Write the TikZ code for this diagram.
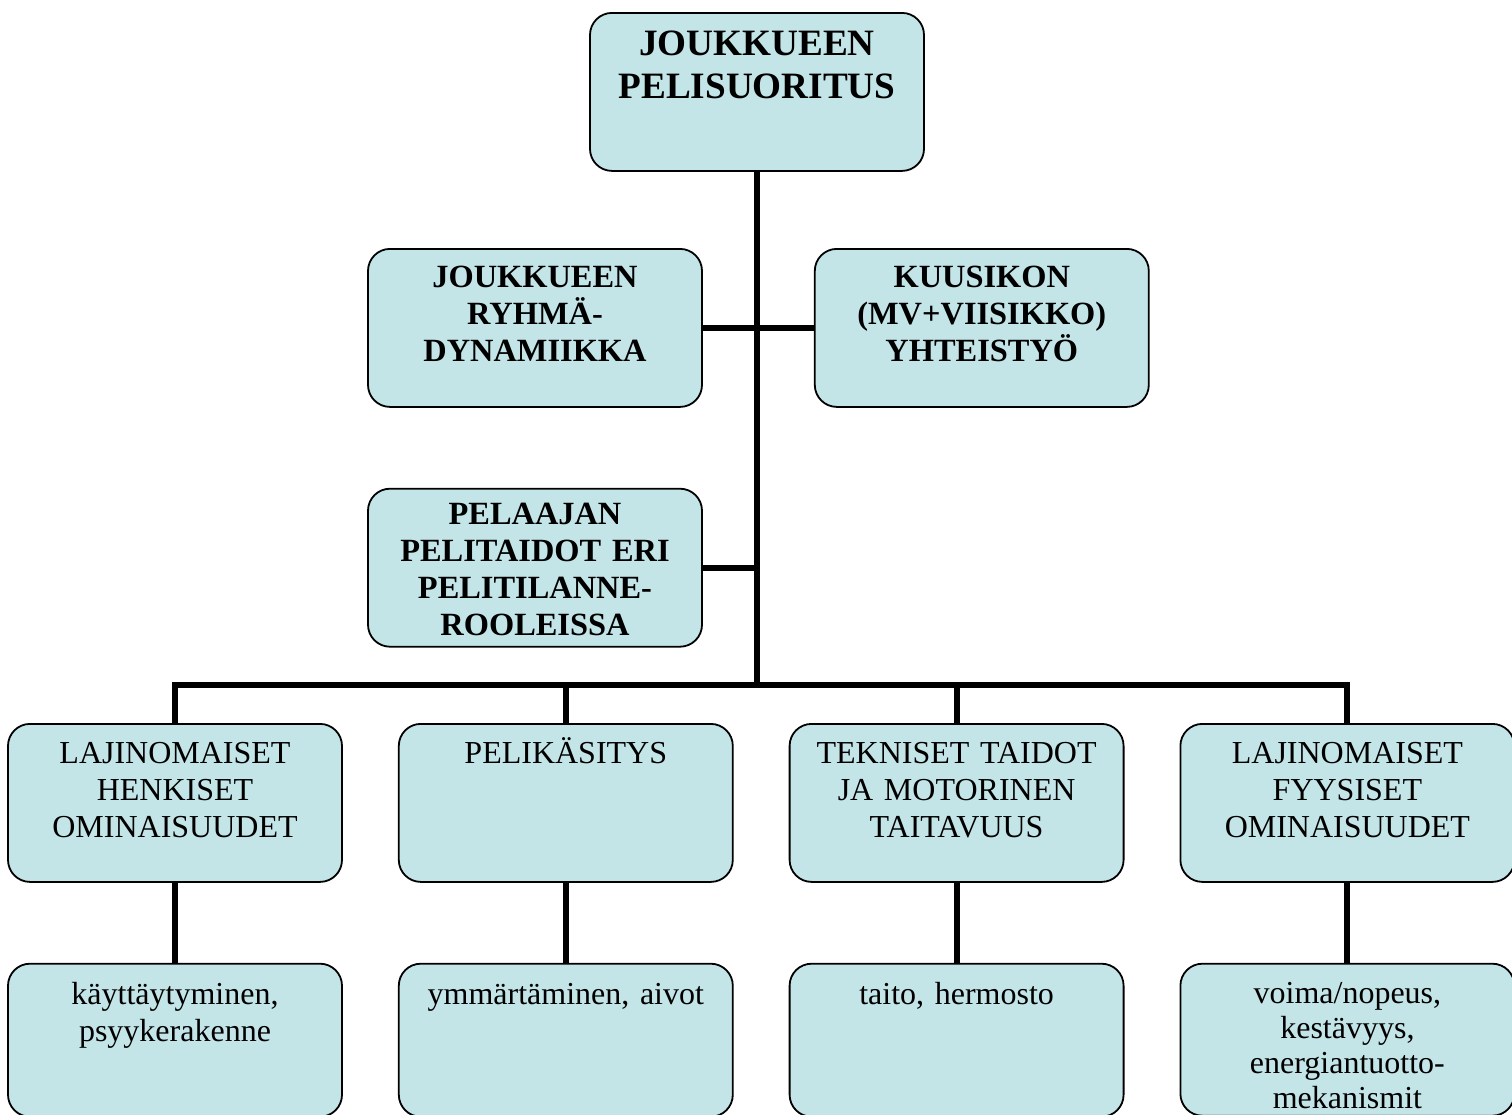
\documentclass[tikz,border=0pt]{standalone}
\usepackage{fontspec}
\setmainfont{Liberation Serif}
\usepackage{xcolor}
\usepackage{tikz}
\usetikzlibrary{positioning}

\definecolor{boxblue}{RGB}{196,229,232}

\begin{document}
\begin{tikzpicture}[x=1pt, y=1pt,
    box/.style={draw=black, line width=0.9pt, fill=boxblue, rounded corners=11pt,
        minimum width=167pt, inner sep=0pt, text width=164pt, align=center,
        anchor=north, text height=20pt, text depth=59pt,
        font=\fontsize{16}{18.3}\selectfont},
    boldbox/.style={box, text height=19.5pt, text depth=59.5pt,
        font=\fontsize{16.2}{18.5}\selectfont\bfseries},
    lowbox/.style={box, text height=20.5pt, text depth=56pt},
    conn/.style={line width=3pt}]
    \useasboundingbox (0,0) rectangle (756,-557.5);

    % Top level
    \node[boldbox, text height=21.5pt, text depth=57.5pt,
        font=\fontsize{18.6}{21.5}\selectfont\bfseries] (top) at (378.5,-6)
        {JOUKKUEEN\\PELISUORITUS};

    % Second level
    \node[boldbox] (ryhma) at (267.5,-124) {JOUKKUEEN\\RYHMÄ-\\DYNAMIIKKA};
    \node[boldbox, right=55.5pt of ryhma] (kuusikko) {KUUSIKON\\(MV+VIISIKKO)\\YHTEISTYÖ};
    \node[boldbox, below=40pt of ryhma, text height=18pt, text depth=61pt] (pelitaidot)
        {PELAAJAN\\PELITAIDOT ERI\\PELITILANNE-\\ROOLEISSA};

    % Third level
    \node[box] (henkiset) at (87.5,-361.5) {LAJINOMAISET\\HENKISET\\OMINAISUUDET};
    \node[box, right=27.5pt of henkiset] (kasitys) {PELIKÄSITYS};
    \node[box, right=27.5pt of kasitys] (tekniset) {TEKNISET TAIDOT\\JA MOTORINEN\\TAITAVUUS};
    \node[box, right=27.5pt of tekniset] (fyysiset) {LAJINOMAISET\\FYYSISET\\OMINAISUUDET};

    % Bottom level
    \node[lowbox, below=40pt of henkiset] (psyyke) {käyttäytyminen,\\psyykerakenne};
    \node[lowbox, below=40pt of kasitys] (aivot) {ymmärtäminen, aivot};
    \node[lowbox, below=40pt of tekniset] (hermosto) {taito, hermosto};
    \node[lowbox, below=40pt of fyysiset, text height=20pt,
        font=\fontsize{16}{17.4}\selectfont] (energia)
        {voima/nopeus,\\kestävyys,\\energiantuotto-\\mekanismit};

    % Connectors
    \coordinate (bus) at (378.5,-342.5);
    \draw[conn] (top.south) -- (top.south |- bus);
    \draw[conn] (ryhma.east) -- (kuusikko.west);
    \draw[conn] (pelitaidot.east) -- (pelitaidot.east -| top.south);
    \draw[conn] (henkiset.north) |- (fyysiset.north |- bus) -- (fyysiset.north);
    \draw[conn] (kasitys.north) -- (kasitys.north |- bus);
    \draw[conn] (tekniset.north) -- (tekniset.north |- bus);

    % Drops to bottom level
    \draw[conn] (henkiset.south) -- (psyyke.north);
    \draw[conn] (kasitys.south) -- (aivot.north);
    \draw[conn] (tekniset.south) -- (hermosto.north);
    \draw[conn] (fyysiset.south) -- (energia.north);

\end{tikzpicture}
\end{document}
